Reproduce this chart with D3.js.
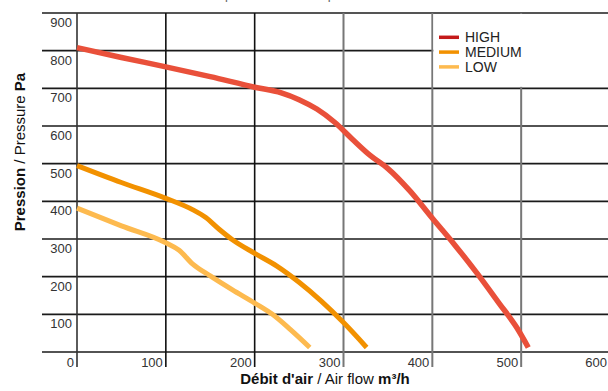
<!DOCTYPE html>
<html><head><meta charset="utf-8">
<script src="https://cdn.jsdelivr.net/npm/d3@7"></script>
<style>html,body{margin:0;padding:0;background:#fff;}svg{display:block;}</style>
</head><body>
<script>
const xTicks = [0,100,200,300,400,500,600];
const yTicks = [100,200,300,400,500,600,700,800,900];
const seriesNames = ["HIGH","MEDIUM","LOW"];
const highData = [[0,808],[50,782],[100,757],[150,731],[200,703],[230,688],[250,670],[270,645],[290,610],[310,565],[330,522],[350,487],[375,427],[400,355],[425,285],[450,210],[475,130],[495,65],[508,12]];
const mediumData = [[0,495],[50,450],[100,408],[130,378],[145,357],[160,326],[175,298],[200,262],[225,228],[250,185],[275,135],[300,78],[326,12]];
const lowData = [[0,382],[50,335],[100,290],[115,270],[130,234],[150,202],[175,165],[200,130],[220,100],[240,60],[262,12]];

const W=608,H=391;
const svg=d3.select("body").append("svg").attr("width",W).attr("height",H);
const x=d3.scaleLinear().domain([0,600]).range([77,610]);
const y=d3.scaleLinear().domain([0,900]).range([352,13]);
const font="'Liberation Sans', Arial, sans-serif";

// cut-off title
svg.append("text").attr("x",280).attr("y",-1.5).attr("text-anchor","middle")
  .attr("font-family",font).attr("font-size",13).attr("fill","#666")
  .text("Courbe débit-pression / Airflow-pressure curve");

// horizontal grid
[0].concat(yTicks).forEach(v=>{
  svg.append("line").attr("x1",42).attr("x2",W).attr("y1",y(v)).attr("y2",y(v))
    .attr("stroke", v===900?"#555":"#1a1a1a").attr("stroke-width",v===900?2:1.6);
});
// vertical grid
const vcol={0:"#333",100:"#111",200:"#111",300:"#777",400:"#777",500:"#777"};
[0,100,200,300,400,500].forEach(v=>{
  svg.append("line").attr("x1",x(v)).attr("x2",x(v)).attr("y1",y(900)).attr("y2",367)
    .attr("stroke",vcol[v]).attr("stroke-width",v===0?1.6:(v>=300?2:1.6));
});
// legend box
svg.append("rect").attr("x",x(400)+1).attr("y",y(900)+1).attr("width",W-x(400)).attr("height",y(800)+37.7-y(900)-2.5).attr("fill","#fff");

// ticks labels
xTicks.forEach(v=>{
  svg.append("text").attr("x",x(v)-3).attr("y",367).attr("text-anchor","end")
    .attr("font-family",font).attr("font-size",13).attr("fill","#333").text(v);
});
yTicks.forEach(v=>{
  svg.append("text").attr("x",72).attr("y",y(v)+14).attr("text-anchor","end")
    .attr("font-family",font).attr("font-size",13).attr("fill","#333").text(v);
});

// curves
const line=d3.line().x(d=>x(d[0])).y(d=>y(d[1])).curve(d3.curveMonotoneX);
const series=[
  {name:seriesNames[0],data:highData,color:"#e9503a",legend:"#c41a1a",w:5.5},
  {name:seriesNames[1],data:mediumData,color:"#f29100",legend:"#f29100",w:5},
  {name:seriesNames[2],data:lowData,color:"#fdba4f",legend:"#fdba4f",w:5}
];
series.forEach(s=>{
  svg.append("path").attr("d",line(s.data)).attr("fill","none")
    .attr("stroke",s.color).attr("stroke-width",s.w).attr("stroke-linejoin","round");
});

// legend
series.forEach((s,i)=>{
  const ly=37.3+i*14.8;
  svg.append("line").attr("x1",439).attr("x2",459).attr("y1",ly).attr("y2",ly)
    .attr("stroke",s.legend).attr("stroke-width",3.5);
  svg.append("text").attr("x",465).attr("y",ly+5).attr("font-family",font)
    .attr("font-size",14).attr("fill","#222").text(s.name);
});

// axis titles
const xt=svg.append("text").attr("x",325).attr("y",384).attr("text-anchor","middle")
  .attr("font-family",font).attr("font-size",15).attr("fill","#111");
xt.append("tspan").attr("font-weight","bold").text("Débit d'air");
xt.append("tspan").text(" / Air flow ");
xt.append("tspan").attr("font-weight","bold").text("m³/h");

const yt=svg.append("text").attr("transform","translate(25,152) rotate(-90)").attr("text-anchor","middle")
  .attr("font-family",font).attr("font-size",15).attr("fill","#111");
yt.append("tspan").attr("font-weight","bold").text("Pression");
yt.append("tspan").text(" / Pressure ");
yt.append("tspan").attr("font-weight","bold").text("Pa");
</script>
</body></html>
